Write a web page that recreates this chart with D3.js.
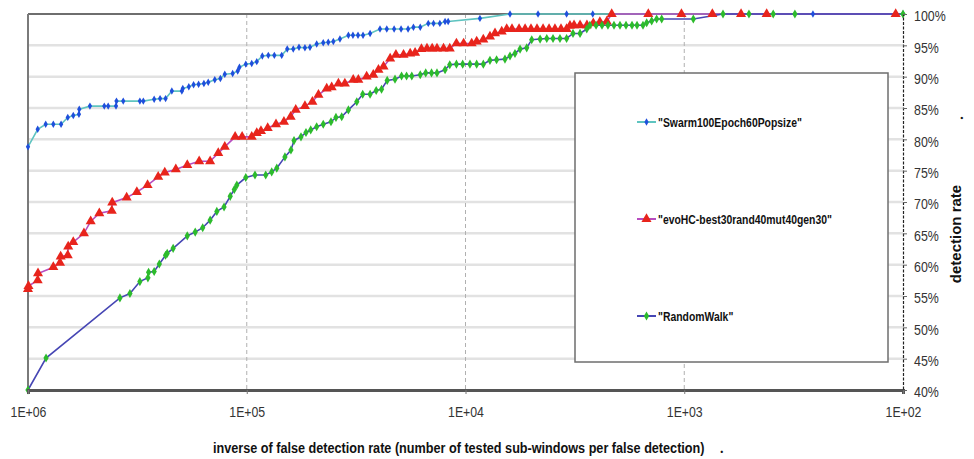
<!DOCTYPE html>
<html><head><meta charset="utf-8">
<script src="https://cdn.jsdelivr.net/npm/d3@7"></script>
<style>
body{margin:0;background:#fff;}
svg{display:block;}
.narrow{font-family:"Liberation Sans",Arial,sans-serif;}
</style></head>
<body><svg id="c" width="974" height="459"></svg>
<script>
// ---- data (x = inverse false detection rate, y = detection rate %) ----
const seriesNames = ['"Swarm100Epoch60Popsize"', '"evoHC-best30rand40mut40gen30"', '"RandomWalk"'];
const xTicks = [1e6, 1e5, 1e4, 1e3, 1e2];
const xTickLabels = ["1E+06", "1E+05", "1E+04", "1E+03", "1E+02"];
const yTicks = [40,45,50,55,60,65,70,75,80,85,90,95,100];

const swarmX = [1000000,903000,830000,766000,706000,658000,621000,585000,583000,521000,448000,430000,396000,394000,367000,308000,297000,265000,249000,235000,220000,198000,196000,184000,175000,166000,157000,150000,140000,132000,126000,116000,110000,108000,101000,94900,90000,84900,79700,74800,69200,65300,61300,57700,54200,51400,47900,44700,42400,40200,37500,34300,32700,31000,29400,27300,24600,22900,21200,19700,18300,17300,16100,14800,14000,13100,12400,12000,8590,6260,4660,3450,2620,258,100];
const swarmY = [78.8,81.6,82.4,82.4,82.4,83.5,83.8,84.0,84.8,85.3,85.3,85.3,85.3,86.1,86.1,86.1,86.1,86.4,86.5,86.5,87.7,87.7,88.1,88.4,88.7,88.8,88.9,89.1,89.5,89.7,90.4,90.5,90.9,91.5,92.0,92.1,92.4,93.3,93.4,93.4,93.4,94.4,94.4,94.7,94.6,94.7,95.2,95.4,95.5,95.6,96.0,96.6,96.6,96.6,96.6,96.9,97.6,97.6,97.6,97.6,97.6,97.9,97.9,98.5,98.5,98.5,98.8,98.8,99.3,100,100,100,100,100,100];

const evoX = [1000000,995000,903000,900000,766000,714000,709000,658000,655000,621000,555000,517000,472000,414000,412000,354000,318000,284000,254000,237000,211000,187000,165000,147000,135000,126000,113000,105000,94900,90000,86100,80200,73500,67600,63000,59700,54200,50100,47000,43100,40900,38100,35600,32600,30900,28300,26400,25000,23700,22100,20800,19200,17900,17000,15900,15000,14200,13500,12600,11800,11000,10200,9370,8890,8290,7730,7330,6830,6480,6130,5690,5340,5020,4710,4420,4150,3900,3660,3450,3330,3190,2995,2785,2605,2430,2260,2146,1460,1030,744,550,420,108];
const evoY = [56.1,56.6,57.5,58.6,59.6,60.3,61.3,61.5,62.9,63.6,65.0,66.9,68.2,68.6,69.9,70.7,71.6,72.7,74.0,74.7,75.2,75.9,76.5,76.5,77.8,78.8,80.4,80.4,80.4,81.0,81.3,81.8,82.4,82.8,83.6,84.7,85.3,86.0,87.1,88.1,88.3,88.9,88.9,89.5,89.5,90.0,90.3,91.1,91.6,92.9,93.5,93.5,93.7,93.8,94.4,94.5,94.5,94.5,94.5,94.5,95.3,95.3,95.3,95.6,95.9,96.4,96.9,97.2,97.6,97.6,97.6,97.6,97.6,97.6,97.6,97.6,97.6,97.6,97.6,98.1,98.2,98.2,98.2,98.5,98.7,98.8,100,100,100,100,100,100,100];

const rwX = [1000000,827000,380000,342000,308000,283000,281000,265000,251000,235000,231000,217000,187000,172000,159000,147000,137000,127000,119000,114000,111000,101000,91700,81900,76900,72900,66900,62800,60800,56500,53600,51000,47900,44700,41200,39100,36800,34300,31400,29500,27300,25600,24200,22800,21000,19600,18600,17600,16100,15200,14300,13500,12400,11800,11000,10300,9540,8890,8290,7730,7210,6600,6260,5940,5630,5250,4980,4560,4250,3980,3700,3450,3225,2995,2790,2700,2530,2377,2232,2095,1967,1846,1733,1644,1544,1485,1409,1337,1268,909,665,506,392,312,100];
const rwY = [40.0,45.1,54.7,55.4,57.3,57.9,58.8,58.9,60.1,61.5,61.8,62.6,64.6,65.2,65.9,67.1,68.5,69.2,70.9,72.0,72.7,73.9,74.3,74.3,74.8,75.4,77.2,78.3,79.8,80.4,81.1,81.5,82.0,82.4,82.8,83.5,83.6,84.7,86.0,87.2,87.2,87.8,88.0,89.4,89.6,90.1,90.1,90.1,90.3,90.6,90.6,90.6,91.1,91.9,92.0,92.0,92.0,92.0,92.0,92.6,92.7,92.8,93.3,93.7,94.4,94.6,95.9,96.0,96.1,96.1,96.1,96.1,96.9,96.9,97.6,98.2,98.2,98.2,98.2,98.2,98.2,98.2,98.2,98.2,98.2,98.6,98.9,99.2,99.2,99.2,100,100,100,100,100];

const lineColors = ["#5ec4c0", "#b84cbf", "#4646b4"];
const markerColors = ["#1f4fdc", "#e8241c", "#2cbb2c"];

// ---- drawing ----
const svg = d3.select("#c");
const L = 28, R = 903, T = 14, B = 390;
const x = d3.scaleLog().domain([1e6, 1e2]).range([L, R]);
const y = d3.scaleLinear().domain([40, 100]).range([B, T]);

function condense(sel, f) {
  sel.each(function () {
    const w = this.getComputedTextLength();
    d3.select(this).attr("textLength", w * f).attr("lengthAdjust", "spacingAndGlyphs");
  });
}

// horizontal gridlines
svg.append("g").selectAll("line").data(yTicks.filter(v => v > 40 && v < 100)).join("line")
  .attr("x1", L).attr("x2", R).attr("y1", d => y(d)).attr("y2", d => y(d))
  .attr("stroke", "#e2e2e2").attr("stroke-width", 2.5);
// vertical dashed gridlines
svg.append("g").selectAll("line").data(xTicks.slice(1, -1)).join("line")
  .attr("x1", d => x(d)).attr("x2", d => x(d)).attr("y1", T).attr("y2", B)
  .attr("stroke", "#b0b0b0").attr("stroke-width", 1).attr("stroke-dasharray", "4,3");

// frame: top and left
svg.append("line").attr("x1", L).attr("x2", R).attr("y1", T).attr("y2", T).attr("stroke", "#6e6e6e").attr("stroke-width", 2);
svg.append("line").attr("x1", L).attr("x2", L).attr("y1", T).attr("y2", B).attr("stroke", "#7a7a7a").attr("stroke-width", 2);

// series
const data = [
  swarmX.map((v, i) => [v, swarmY[i]]),
  evoX.map((v, i) => [v, evoY[i]]),
  rwX.map((v, i) => [v, rwY[i]])
];
const line = d3.line().x(d => x(d[0])).y(d => y(d[1]));
data.forEach((s, i) => {
  svg.append("path").datum(s).attr("d", line).attr("fill", "none")
    .attr("stroke", lineColors[i]).attr("stroke-width", 1.6);
});
const symbols = [d3.symbol().type(d3.symbolDiamond).size(16), d3.symbol().type(d3.symbolTriangle).size(44), d3.symbol().type(d3.symbolDiamond).size(24)];
data.forEach((s, i) => {
  svg.append("g").selectAll("path").data(s).join("path")
    .attr("transform", d => `translate(${x(d[0])},${y(d[1])})`)
    .attr("d", symbols[i]).attr("fill", markerColors[i]);
});

// bottom axis
const xAxis = d3.axisBottom(x).tickValues(xTicks).tickFormat((d, i) => xTickLabels[i]).tickSize(4).tickPadding(12);
const gx = svg.append("g").attr("transform", `translate(0,${B})`).call(xAxis);
gx.select(".domain").attr("stroke", "#555").attr("stroke-width", 3);
gx.selectAll(".tick line").attr("stroke", "#777");
gx.selectAll("text").attr("class", "narrow").attr("font-size", 15).attr("fill", "#333").call(condense, 0.82);

// right axis
const yAxis = d3.axisRight(y).tickValues(yTicks).tickFormat(d => d + "%").tickSize(4).tickPadding(7);
const gy = svg.append("g").attr("transform", `translate(${R},0)`).call(yAxis);
gy.select(".domain").attr("stroke", "#222").attr("stroke-width", 1.2).attr("stroke-dasharray", "3,1.5");
gy.selectAll(".tick line").attr("stroke", "#666");
gy.selectAll("text").attr("class", "narrow").attr("font-size", 15.5).attr("fill", "#333").attr("dy", "0.45em").call(condense, 0.8);

// legend
const lg = svg.append("g");
lg.append("rect").attr("x", 575).attr("y", 73).attr("width", 313).attr("height", 289)
  .attr("fill", "#fff").attr("stroke", "#6e6e6e").attr("stroke-width", 1.5);
const legY = [122, 219, 316];
seriesNames.forEach((name, i) => {
  lg.append("line").attr("x1", 637).attr("x2", 656).attr("y1", legY[i]).attr("y2", legY[i])
    .attr("stroke", lineColors[i]).attr("stroke-width", 2);
  lg.append("path").attr("transform", `translate(646.5,${legY[i]})`).attr("d", symbols[i]).attr("fill", markerColors[i]);
  lg.append("text").attr("x", 658).attr("y", legY[i]).attr("dy", "0.36em")
    .attr("class", "narrow").attr("font-size", 13.5).attr("font-weight", "bold").attr("fill", "#111")
    .text(name).call(condense, 0.77);
});

// axis titles (horizontally condensed with a scale transform)
const xt = svg.append("text").attr("class", "narrow").attr("font-size", 14)
  .attr("font-weight", "bold").attr("fill", "#111")
  .text("inverse of false detection rate (number of tested sub-windows per false detection)");
const xtw = xt.node().getComputedTextLength();
xt.attr("transform", `translate(213,453) scale(${492 / xtw},1)`);
svg.append("text").attr("x", 720).attr("y", 453).attr("font-size", 14).attr("font-weight", "bold").attr("fill", "#111").text(".");
svg.append("text").attr("transform", "translate(961,234) rotate(-90)").attr("text-anchor", "middle")
  .attr("font-family", "Liberation Sans, Arial, sans-serif").attr("font-size", 15).attr("font-weight", "bold").attr("fill", "#111")
  .text("detection rate");
svg.append("text").attr("transform", "translate(963,118) rotate(-90)").attr("text-anchor", "middle")
  .attr("font-size", 14).attr("font-weight", "bold").attr("fill", "#111").text(".");
</script></body></html>
